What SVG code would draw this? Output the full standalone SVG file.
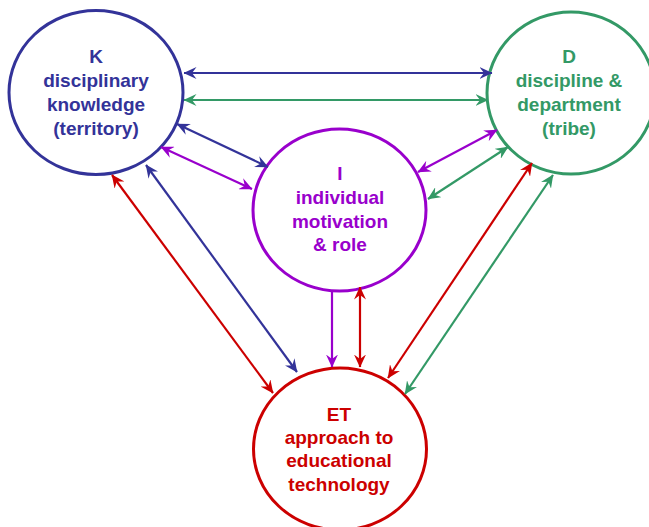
<svg xmlns="http://www.w3.org/2000/svg" width="649" height="527" viewBox="0 0 649 527">
<style>
.node{fill:#fff;stroke-width:3}
.t{font-family:"Liberation Sans",Arial,sans-serif;font-weight:bold;font-size:19px;text-anchor:middle}
.c line{stroke-width:2.2;fill:none}
.b{stroke:#333399}.g{stroke:#339966}.p{stroke:#9900cc}.r{stroke:#cc0000}
</style>
<defs>
<marker id="mb" viewBox="0 0 13 12" refX="12.5" refY="6" markerWidth="13" markerHeight="12" markerUnits="userSpaceOnUse" orient="auto-start-reverse"><path d="M0,0 L13,6 L0,12 L4.5,6 z" fill="#333399"/></marker>
<marker id="mg" viewBox="0 0 13 12" refX="12.5" refY="6" markerWidth="13" markerHeight="12" markerUnits="userSpaceOnUse" orient="auto-start-reverse"><path d="M0,0 L13,6 L0,12 L4.5,6 z" fill="#339966"/></marker>
<marker id="mp" viewBox="0 0 13 12" refX="12.5" refY="6" markerWidth="13" markerHeight="12" markerUnits="userSpaceOnUse" orient="auto-start-reverse"><path d="M0,0 L13,6 L0,12 L4.5,6 z" fill="#9900cc"/></marker>
<marker id="mr" viewBox="0 0 13 12" refX="12.5" refY="6" markerWidth="13" markerHeight="12" markerUnits="userSpaceOnUse" orient="auto-start-reverse"><path d="M0,0 L13,6 L0,12 L4.5,6 z" fill="#cc0000"/></marker>
</defs>
<rect width="649" height="527" fill="#fff"/>
<g id="K">
<ellipse class="node" cx="96" cy="92.5" rx="87" ry="82" stroke="#333399"/>
<text class="t" fill="#333399"><tspan x="96" y="63">K</tspan><tspan x="96" y="87">disciplinary</tspan><tspan x="96" y="111">knowledge</tspan><tspan x="96" y="135">(territory)</tspan></text>
</g>
<g id="D">
<ellipse class="node" cx="571" cy="93" rx="84" ry="81" stroke="#339966"/>
<text class="t" fill="#339966"><tspan x="569" y="63">D</tspan><tspan x="569" y="87">discipline &amp;</tspan><tspan x="569" y="111">department</tspan><tspan x="569" y="135">(tribe)</tspan></text>
</g>
<g id="I">
<ellipse class="node" cx="339.5" cy="210" rx="86.5" ry="81" stroke="#9900cc"/>
<text class="t" fill="#9900cc"><tspan x="340" y="180">I</tspan><tspan x="340" y="204">individual</tspan><tspan x="340" y="228">motivation</tspan><tspan x="340" y="251">&amp; role</tspan></text>
</g>
<g id="ET">
<ellipse class="node" cx="340" cy="449" rx="86.5" ry="81" stroke="#cc0000"/>
<text class="t" fill="#cc0000"><tspan x="339" y="421">ET</tspan><tspan x="339" y="444">approach to</tspan><tspan x="339" y="467">educational</tspan><tspan x="339" y="491">technology</tspan></text>
</g>
<g id="connectors" class="c">
<line class="b" x1="184" y1="73" x2="492" y2="73" marker-start="url(#mb)" marker-end="url(#mb)"/>
<line class="g" x1="184" y1="100" x2="488" y2="100" marker-start="url(#mg)" marker-end="url(#mg)"/>
<line class="b" x1="177" y1="124" x2="268" y2="167" marker-start="url(#mb)" marker-end="url(#mb)"/>
<line class="p" x1="161" y1="147" x2="252" y2="189" marker-start="url(#mp)" marker-end="url(#mp)"/>
<line class="p" x1="497" y1="130" x2="418" y2="172" marker-start="url(#mp)" marker-end="url(#mp)"/>
<line class="g" x1="508" y1="147" x2="428" y2="199" marker-start="url(#mg)" marker-end="url(#mg)"/>
<line class="r" x1="112" y1="175" x2="273" y2="393" marker-start="url(#mr)" marker-end="url(#mr)"/>
<line class="b" x1="146" y1="165" x2="297" y2="372" marker-start="url(#mb)" marker-end="url(#mb)"/>
<line class="p" x1="332" y1="290" x2="332" y2="367" marker-end="url(#mp)"/>
<line class="r" x1="360" y1="287" x2="360" y2="367" marker-start="url(#mr)" marker-end="url(#mr)"/>
<line class="r" x1="532" y1="163" x2="388" y2="378" marker-start="url(#mr)" marker-end="url(#mr)"/>
<line class="g" x1="553" y1="175" x2="405" y2="394" marker-start="url(#mg)" marker-end="url(#mg)"/>
</g>
</svg>
